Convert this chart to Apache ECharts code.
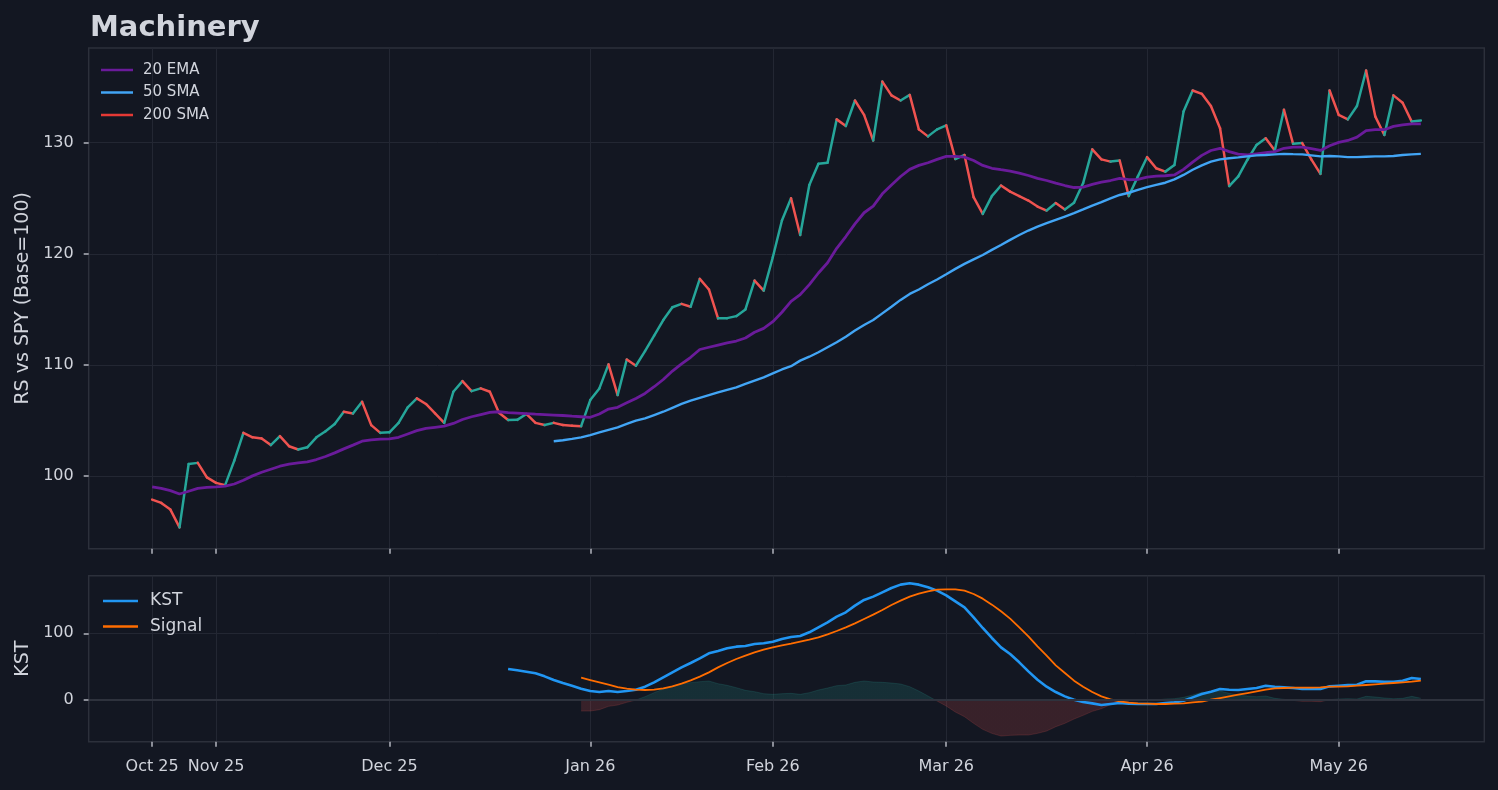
<!DOCTYPE html>
<html lang="en">
<head>
    <meta charset="UTF-8"/>
    <title>Machinery</title>
    <style>
        html, body {
            margin: 0;
            padding: 0;
            width: 100vw;
            height: 100vh;
            background: #131722;
            overflow: hidden;
        }

        #chart {
            width: 1498px;
            height: 790px;
        }
    </style>
</head>
<body>
<div id="chart"></div>
<script src="https://cdn.jsdelivr.net/npm/echarts@6/dist/echarts.min.js"></script>
<script>
    const chart = echarts.init(document.getElementById('chart'));

    // x is a trading-day index; ticks sit on the first session of each month
    const tickIndex = [0, 7, 26, 48, 68, 87, 109, 130];
    const tickLabels = ['Oct 25', 'Nov 25', 'Dec 25', 'Jan 26', 'Feb 26', 'Mar 26', 'Apr 26', 'May 26'];

    // relative strength vs SPY, one value per session (index 0..139)
    const rs = [
        97.9, 97.6, 97.0, 95.4, 101.1, 101.2, 99.9, 99.4, 99.2, 101.4,
        103.9, 103.5, 103.4, 102.8, 103.6, 102.7, 102.4, 102.6, 103.5, 104.05,
        104.7, 105.8, 105.65, 106.7, 104.6, 103.9, 103.95, 104.8, 106.2, 107.0,
        106.5, 105.65, 104.8, 107.6, 108.55, 107.65, 107.9, 107.6, 105.7, 105.05,
        105.07, 105.6, 104.8, 104.6, 104.8, 104.6, 104.55, 104.5, 106.85, 107.9,
        110.06, 107.3, 110.5, 109.94, 111.26, 112.64, 114.05, 115.2, 115.5, 115.25,
        117.75, 116.8, 114.2, 114.22, 114.4, 115.0, 117.6, 116.7, 119.7, 123.0,
        125.0, 121.7, 126.2, 128.1, 128.2, 132.1, 131.5, 133.8, 132.5, 130.2,
        135.5, 134.26, 133.8, 134.3, 131.2, 130.57, 131.2, 131.56, 128.53, 128.9,
        125.1, 123.6, 125.2, 126.15, 125.6, 125.2, 124.8, 124.26, 123.9, 124.57,
        124.0, 124.6, 126.37, 129.4, 128.5, 128.3, 128.4, 125.2, 126.97, 128.7,
        127.7, 127.4, 128.0, 132.8, 134.7, 134.4, 133.3, 131.3, 126.1, 126.97,
        128.47, 129.8, 130.4, 129.3, 132.97, 129.9, 129.97, 128.5, 127.2, 134.7,
        132.5, 132.1, 133.3, 136.5, 132.37, 130.7, 134.26, 133.6, 131.9, 132.0
    ];

    const ema20 = [
        99.04, 98.9, 98.7, 98.4, 98.65, 98.9, 99.0, 99.04, 99.1, 99.3,
        99.64, 100.03, 100.36, 100.63, 100.9, 101.08, 101.2, 101.3, 101.5, 101.77,
        102.1, 102.46, 102.8, 103.15, 103.27, 103.33, 103.36, 103.5, 103.8, 104.1,
        104.3, 104.4, 104.5, 104.75, 105.1, 105.35, 105.55, 105.74, 105.8, 105.72,
        105.68, 105.63, 105.58, 105.54, 105.5, 105.46, 105.4, 105.35, 105.3, 105.6,
        106.04, 106.2, 106.6, 107.0, 107.45, 108.05, 108.7, 109.46, 110.1, 110.7,
        111.4, 111.6, 111.8, 112.0, 112.16, 112.43, 112.95, 113.3, 113.9, 114.75,
        115.73, 116.33, 117.24, 118.28, 119.2, 120.5, 121.56, 122.7, 123.7, 124.3,
        125.4, 126.2, 126.96, 127.6, 127.96, 128.2, 128.5, 128.77, 128.77, 128.7,
        128.4, 127.96, 127.7, 127.57, 127.45, 127.27, 127.05, 126.8, 126.6, 126.37,
        126.15, 125.97, 126.0, 126.25, 126.45, 126.6, 126.8, 126.67, 126.7, 126.9,
        127.0, 127.03, 127.1, 127.6, 128.26, 128.86, 129.3, 129.5, 129.2, 128.97,
        128.9, 129.0, 129.1, 129.2, 129.5, 129.6, 129.6, 129.46, 129.3, 129.73,
        130.03, 130.2, 130.5, 131.08, 131.17, 131.17, 131.47, 131.6, 131.7, 131.7
    ];

    const sma50Start = 44;
    const sma50 = [
        103.15, 103.24, 103.36, 103.5, 103.7, 103.94,
        104.17, 104.4, 104.7, 105.0, 105.2, 105.5, 105.8, 106.15, 106.5, 106.8,
        107.05, 107.3, 107.54, 107.77, 108.0, 108.3, 108.6, 108.9, 109.25, 109.6,
        109.9, 110.4, 110.75, 111.15, 111.6, 112.05, 112.55, 113.1, 113.6, 114.05,
        114.65, 115.25, 115.86, 116.4, 116.8, 117.27, 117.7, 118.17, 118.65, 119.1,
        119.5, 119.9, 120.36, 120.8, 121.26, 121.7, 122.1, 122.46, 122.76, 123.06,
        123.36, 123.66, 124.0, 124.35, 124.66, 125.0, 125.3, 125.5, 125.76, 126.0,
        126.2, 126.4, 126.7, 127.1, 127.57, 127.96, 128.3, 128.5, 128.6, 128.68,
        128.77, 128.86, 128.9, 128.95, 129.0, 128.97, 128.95, 128.86, 128.77, 128.8,
        128.77, 128.7, 128.7, 128.74, 128.77, 128.77, 128.8, 128.9, 128.95, 129.0
    ];

    // 200 SMA has no points in this window, it only shows in the legend
    const sma200 = [];

    const kstStart = 39;
    const kst = [
        46.5,
        44.5, 42.5, 40, 35.5, 30, 25.5, 21.5, 17, 13.5, 12,
        13.5, 12, 13.5, 15.5, 20, 26.5, 34, 41.5, 49, 55.5,
        62.5, 70, 73.5, 77.5, 80, 81, 84, 85, 87.5, 91.5,
        94.5, 96, 101.5, 109, 116.5, 125, 131.5, 141.5, 150, 155,
        161.5, 168, 173, 175, 173, 169, 164, 157, 148, 139,
        124, 108, 93, 79, 69, 56.5, 43, 30.5, 20, 12,
        5.5, 0.5, -3, -5, -7.5, -6, -4.5, -5.5, -6, -6,
        -6, -4.5, -3.5, -1, 4, 9, 12.5, 16.5, 15.5, 15,
        16.5, 18, 21.5, 20, 19, 18, 16.5, 16.5, 16.5, 20.5,
        21.5, 22.5, 23, 28, 28, 27.5, 27.5, 29, 33, 31.5
    ];

    const signalStart = 47;
    const signal = [
        33.5, 30, 26.5,
        23, 19.5, 17, 15.5, 15, 15.5, 17.5, 20.5, 24.5, 29.5,
        35, 41.5, 49, 55.5, 61.5, 66.5, 71.5, 75.5, 79, 82,
        84.5, 87.5, 90.5, 94, 98.5, 103.5, 109, 115, 121.5, 128,
        135, 142.5, 149, 155, 159.5, 163, 165.5, 166, 166, 164,
        159, 152, 143, 133, 122, 109, 95.5, 80.5, 66.5, 52,
        40.5, 29, 20, 12, 5.5, 1, -2, -4, -5, -5.5,
        -6, -6, -5.5, -5, -3.5, -2.5, 0.5, 3, 5.5, 8,
        10.5, 13, 15.5, 17.5, 18, 18.5, 18.5, 18.5, 19, 20,
        20, 20.5, 21.5, 22.5, 23.5, 24.5, 25.5, 26.5, 27.5, 29
    ];

    // KST minus signal, shaded green above zero and red below
    const histStart = 47;
    const histogram = [
        -16.5, -16.5, -14.5,
        -9.5, -7.5, -3.5, 0, 5, 11, 16.5, 21, 24.5, 26,
        27.5, 28.5, 24.5, 22, 18.5, 14.5, 12.5, 9.5, 8.5, 9.5,
        10, 8.5, 11, 15, 18, 21.5, 22.5, 26.5, 28.5, 27,
        26.5, 25.5, 24, 20, 13.5, 6, -1.5, -9, -18, -25,
        -35, -44, -50, -54, -53, -52.5, -52.5, -50, -46.5, -40,
        -35, -28.5, -23, -17, -13, -7, -2.5, -1.5, -1, -0.5,
        0, 1.5, 2, 4, 7.5, 11.5, 12, 13.5, 10, 7,
        6, 5, 6, 2.5, 1, -0.5, -2, -2, -2.5, 0.5,
        1.5, 2, 1.5, 5.5, 4.5, 3, 2, 2.5, 5.5, 2.5
    ];

    const FONT = 'DejaVu Sans';
    const TEXT = '#d1d4dc';
    const GRID_LINE = '#232733';
    const BORDER = '#2c303b';
    const UP = '#26a69a';
    const DOWN = '#ef5350';

    const toPoints = (start, arr) => arr.map((v, k) => [start + k, v]);

    // one item per step of the RS line: [index, value, next value]
    const rsSteps = rs.slice(0, -1).map((v, i) => [i, v, rs[i + 1]]);

    function xAxisFor(gridIndex, showLabels) {
        return {
            type: 'value',
            gridIndex: gridIndex,
            min: -6.95,
            max: 145.95,
            axisLine: {show: false, onZero: false},
            axisTick: {
                show: true,
                length: 5,
                customValues: tickIndex,
                lineStyle: {color: '#b2b5be', width: 1.5}
            },
            axisLabel: {
                show: showLabels,
                customValues: tickIndex,
                formatter: v => tickLabels[tickIndex.indexOf(v)] || '',
                color: TEXT,
                fontFamily: FONT,
                fontSize: 16,
                margin: 17
            },
            splitLine: {show: true, lineStyle: {color: GRID_LINE, width: 1}}
        };
    }

    function yAxisFor(gridIndex, name, min, max, ticks) {
        return {
            type: 'value',
            gridIndex: gridIndex,
            min: min,
            max: max,
            name: name,
            nameLocation: 'middle',
            nameGap: 51,
            nameTextStyle: {color: TEXT, fontFamily: FONT, fontSize: 19},
            axisLine: {show: false, onZero: false},
            axisTick: {
                show: true,
                length: 5,
                customValues: ticks,
                lineStyle: {color: '#b2b5be', width: 1.5}
            },
            axisLabel: {
                customValues: ticks,
                color: TEXT,
                fontFamily: FONT,
                fontSize: 16,
                margin: 15
            },
            splitLine: {show: true, lineStyle: {color: GRID_LINE, width: 1}}
        };
    }

    function lineSeries(name, data, color, width, axis) {
        return {
            name: name,
            type: 'line',
            xAxisIndex: axis,
            yAxisIndex: axis,
            data: data,
            symbol: 'none',
            color: color,
            itemStyle: {color: color},
            lineStyle: {color: color, width: width},
            z: 3
        };
    }

    const option = {
        backgroundColor: '#131722',
        animation: false,
        title: {
            text: 'Machinery',
            left: 85,
            top: 9,
            textStyle: {color: TEXT, fontFamily: FONT, fontSize: 29, fontWeight: 'bold'}
        },
        legend: [
            {
                data: ['20 EMA', '50 SMA', '200 SMA'],
                orient: 'vertical',
                left: 101,
                top: 62,
                padding: 0,
                icon: 'rect',
                itemWidth: 32,
                itemHeight: 2.5,
                itemGap: 6.5,
                selectedMode: false,
                textStyle: {color: TEXT, fontFamily: FONT, fontSize: 15, lineHeight: 16, padding: [0, 0, 0, 5]}
            },
            {
                data: ['KST', 'Signal'],
                orient: 'vertical',
                left: 103,
                top: 592,
                padding: 0,
                icon: 'rect',
                itemWidth: 35,
                itemHeight: 2.5,
                itemGap: 7.5,
                selectedMode: false,
                textStyle: {color: TEXT, fontFamily: FONT, fontSize: 17, lineHeight: 18, padding: [0, 0, 0, 7]}
            }
        ],
        grid: [
            {left: 88.7, right: 13.7, top: 48, height: 500.7, show: true, borderColor: BORDER, borderWidth: 1.5},
            {left: 88.7, right: 13.7, top: 575.7, height: 166, show: true, borderColor: BORDER, borderWidth: 1.5}
        ],
        xAxis: [xAxisFor(0, false), xAxisFor(1, true)],
        yAxis: [
            yAxisFor(0, 'RS vs SPY (Base=100)', 93.48, 138.52, [100, 110, 120, 130]),
            yAxisFor(1, 'KST', -62.5, 186.4, [0, 100])
        ],
        visualMap: {
            type: 'piecewise',
            show: false,
            seriesIndex: 4,
            dimension: 1,
            pieces: [
                {gte: 0, lte: 400, color: 'rgba(38, 166, 154, 0.17)'},
                {gte: -400, lt: 0, color: 'rgba(239, 83, 80, 0.17)'}
            ]
        },
        series: [
            {
                name: 'RS',
                type: 'custom',
                xAxisIndex: 0,
                yAxisIndex: 0,
                data: rsSteps,
                encode: {x: 0, y: [1, 2]},
                clip: true,
                z: 2,
                renderItem: (params, api) => {
                    const i = api.value(0);
                    const a = api.coord([i, api.value(1)]);
                    const b = api.coord([i + 1, api.value(2)]);
                    return {
                        type: 'line',
                        shape: {x1: a[0], y1: a[1], x2: b[0], y2: b[1]},
                        style: {
                            stroke: api.value(2) >= api.value(1) ? UP : DOWN,
                            lineWidth: 2.5,
                            lineCap: 'round'
                        }
                    };
                }
            },
            lineSeries('20 EMA', toPoints(0, ema20), '#6a1b9a', 2.8, 0),
            lineSeries('50 SMA', toPoints(sma50Start, sma50), '#42a5f5', 2.4, 0),
            lineSeries('200 SMA', sma200, '#e53935', 2.4, 0),
            {
                name: 'hist',
                type: 'line',
                xAxisIndex: 1,
                yAxisIndex: 1,
                data: toPoints(histStart, histogram),
                symbol: 'none',
                lineStyle: {width: 1},
                areaStyle: {origin: 0, opacity: 1},
                z: 1,
                markLine: {
                    silent: true,
                    symbol: ['none', 'none'],
                    label: {show: false},
                    lineStyle: {color: '#2e323d', width: 2, type: 'solid'},
                    data: [{yAxis: 0}]
                }
            },
            lineSeries('KST', toPoints(kstStart, kst), '#2196f3', 2.6, 1),
            lineSeries('Signal', toPoints(signalStart, signal), '#ff6d00', 1.8, 1)
        ]
    };

    chart.setOption(option);
</script>
</body>
</html>
